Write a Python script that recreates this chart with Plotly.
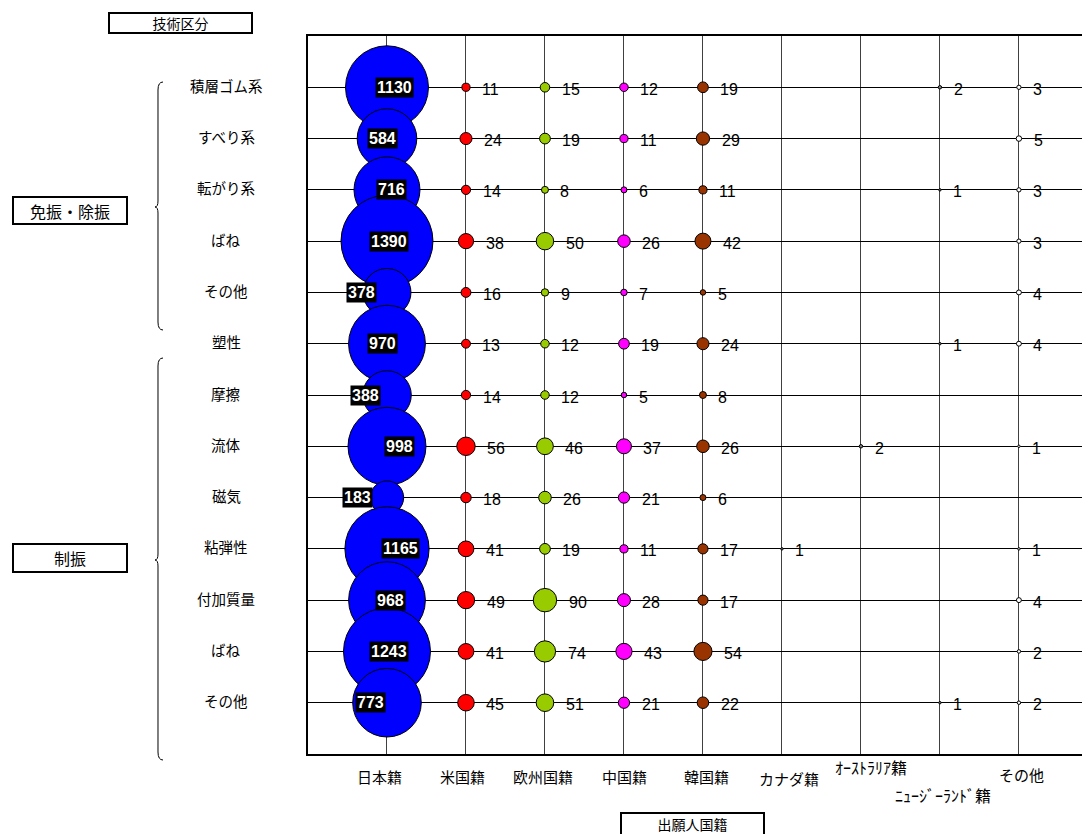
import math
import plotly.graph_objects as go

# ---------------- data ----------------
categories = ["積層ゴム系", "すべり系", "転がり系", "ばね", "その他", "塑性",
              "摩擦", "流体", "磁気", "粘弾性", "付加質量", "ばね", "その他"]
nationalities = ["日本籍", "米国籍", "欧州国籍", "中国籍", "韓国籍", "カナダ籍",
                 "ｵｰｽﾄﾗﾘｱ籍", "ﾆｭｰｼﾞｰﾗﾝﾄﾞ籍", "その他"]
groups = ["免振・除振", "制振"]
axis_titles = ["技術区分", "出願人国籍"]

japan = [1130, 584, 716, 1390, 378, 970, 388, 998, 183, 1165, 968, 1243, 773]
usa = [11, 24, 14, 38, 16, 13, 14, 56, 18, 41, 49, 41, 45]
europe = [15, 19, 8, 50, 9, 12, 12, 46, 26, 19, 90, 74, 51]
china = [12, 11, 6, 26, 7, 19, 5, 37, 21, 11, 28, 43, 21]
korea = [19, 29, 11, 42, 5, 24, 8, 26, 6, 17, 17, 54, 22]
canada = [None, None, None, None, None, None, None, None, None, 1, None, None, None]
australia = [None, None, None, None, None, None, None, 2, None, None, None, None, None]
new_zealand = [2, None, 1, None, None, 1, None, None, None, None, None, None, 1]
other = [3, 5, 3, 3, 4, 4, None, 1, None, 1, 4, 2, 2]

series = [japan, usa, europe, china, korea, canada, australia, new_zealand, other]

# ---------------- styles ----------------
colors = ["#0000FF", "#FF0000", "#99CC00", "#FF00FF", "#993300",
          "#808080", "#808080", "#808080", "#FFFFFF"]
jp_label_dx = [8, -4, 5, 2, -25, -4, -21, 13, -29, 14, 4, 2, -16]
xlabel_dx = [-7, -3, -2, 1, 4, 7, 10, 3, 3]
xlabel_dy = [-22, -22, -22, -22, -22, -24, -13, -41, -20]

OFF = 8  # page body margin
W, H = 1090 - OFF, 834 - OFF
ML, MR, MT, MB = 300, 0, 28, 80
PW, PH = W - ML - MR, H - MT - MB
MAXV = max(japan)
MAXD = 92.0
sizeref = 2.0 * MAXV / (MAXD ** 2)


def px_x(px):
    return (px - OFF - ML) / PW


def px_y(py):
    return 1 - (py - OFF - MT) / PH


rows = list(range(1, len(categories) + 1))

fig = go.Figure()
for ci, vals in enumerate(series):
    xs, ys, ss = [], [], []
    for ri, v in enumerate(vals):
        if v is None:
            continue
        xs.append(ci + 1)
        ys.append(rows[ri])
        ss.append(v)
    fig.add_trace(go.Scatter(
        x=xs, y=ys, mode="markers",
        marker=dict(size=ss, sizemode="area", sizeref=sizeref, sizemin=0, opacity=1,
                    color=colors[ci], line=dict(color="black", width=1)),
        hoverinfo="skip", cliponaxis=False,
    ))

annotations = []
# Japan labels: white on black
for ri, v in enumerate(japan):
    annotations.append(dict(
        x=1, y=rows[ri], xref="x", yref="y", text=str(v), showarrow=False,
        xshift=jp_label_dx[ri], yshift=0,
        font=dict(family="Liberation Sans", size=16, color="white", weight="bold"),
        bgcolor="black", borderpad=1,
    ))
# other labels: right of the bubble
for ci, vals in enumerate(series[1:], start=1):
    for ri, v in enumerate(vals):
        if v is None:
            continue
        r = MAXD / 2 * math.sqrt(v / MAXV)
        annotations.append(dict(
            x=ci + 1, y=rows[ri], xref="x", yref="y", text=str(v), showarrow=False,
            xanchor="left", xshift=r + 10, yshift=-2,
            font=dict(family="Liberation Sans", size=16, color="black"),
        ))
# category labels
for ri, name in enumerate(categories):
    annotations.append(dict(
        x=px_x(226), y=rows[ri], xref="paper", yref="y", text=name, showarrow=False,
        xanchor="center", yanchor="middle", yshift=2,
        font=dict(family="Noto Sans CJK JP", size=14.5, color="black"),
    ))
# nationality labels
for ci, name in enumerate(nationalities):
    annotations.append(dict(
        x=ci + 1, y=0, xref="x", yref="paper", text=name, showarrow=False,
        xanchor="center", yanchor="middle",
        xshift=xlabel_dx[ci], yshift=xlabel_dy[ci],
        font=dict(family="Noto Sans CJK JP", size=16 if ci in (6, 7) else 15, color="black"),
    ))


def box(text, cx, cy, w, h, size):
    return dict(x=px_x(cx), y=px_y(cy), xref="paper", yref="paper", text=text,
                showarrow=False, xanchor="center", yanchor="middle",
                width=w, height=h, borderpad=0, borderwidth=2, bordercolor="black",
                bgcolor="white", font=dict(family="Noto Sans CJK JP", size=size, color="black"))


annotations.append(box(axis_titles[0], 180, 23, 141, 18, 14))
annotations.append(box(axis_titles[1], 692, 824, 141, 20, 14))
annotations.append(box(groups[0], 70, 210.5, 112, 25, 16))
annotations.append(box(groups[1], 70, 558, 112, 26, 16))


def brace(y_top, y_mid, y_bot, x_right=163, x_line=158, x_tip=155):
    pts = [
        ("M", [(x_right, y_top)]),
        ("Q", [(x_line, y_top), (x_line, y_top + 8)]),
        ("L", [(x_line, y_mid - 6)]),
        ("Q", [(x_line, y_mid), (x_tip, y_mid)]),
        ("Q", [(x_line, y_mid), (x_line, y_mid + 6)]),
        ("L", [(x_line, y_bot - 8)]),
        ("Q", [(x_line, y_bot), (x_right, y_bot)]),
    ]
    s = ""
    for cmd, ps in pts:
        s += cmd + " " + " ".join(f"{px_x(a):.5f},{px_y(b):.5f}" for a, b in ps) + " "
    return dict(type="path", path=s.strip(), xref="paper", yref="paper",
                line=dict(color="black", width=1))


shapes = [brace(82, 207, 330), brace(358, 560, 760)]

fig.update_layout(
    width=W, height=H,
    margin=dict(l=ML, r=MR, t=MT, b=MB, pad=0),
    paper_bgcolor="white", plot_bgcolor="white",
    showlegend=False,
    xaxis=dict(range=[0, 9.9], tickvals=list(range(1, 10)), showticklabels=False,
               showgrid=True, gridcolor="#404040", gridwidth=1, zeroline=False,
               showline=True, linecolor="black", linewidth=2, mirror=True,
               ticks="", fixedrange=True),
    yaxis=dict(range=[14, 0], tickvals=rows, showticklabels=False,
               showgrid=True, gridcolor="black", gridwidth=1, zeroline=False,
               showline=True, linecolor="black", linewidth=2, mirror=False,
               ticks="", fixedrange=True),
    annotations=annotations,
    shapes=shapes,
)

fig.write_html("out.html")
